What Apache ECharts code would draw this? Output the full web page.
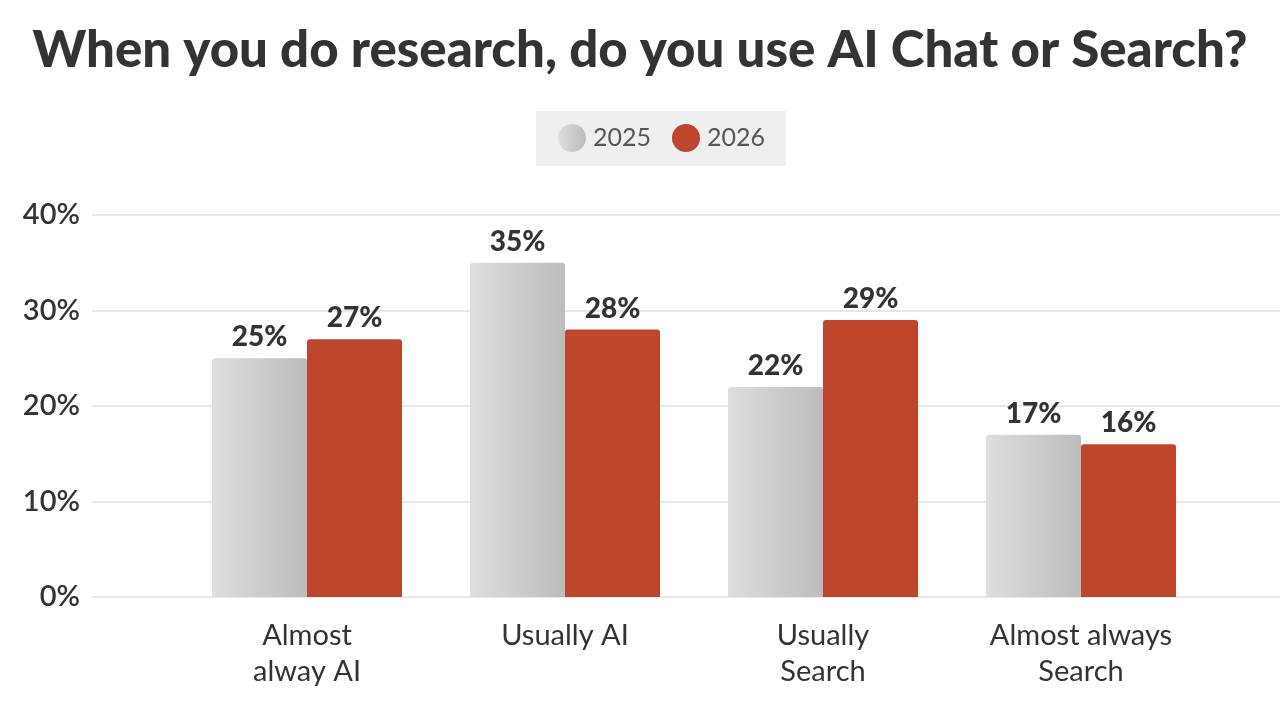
<!DOCTYPE html>
<html>
<head>
<meta charset="utf-8">
<script src="https://cdn.jsdelivr.net/npm/echarts@6/dist/echarts.min.js"></script>
<style>
  html, body { margin: 0; padding: 0; background: #fff; }
  #chart { width: 1280px; height: 720px; }
</style>
</head>
<body>
<div id="chart"></div>
<script>
  var categories = ['Almost\nalway AI', 'Usually AI', 'Usually\nSearch', 'Almost always\nSearch'];
  var values2025 = [25, 35, 22, 17];
  var values2026 = [27, 28, 29, 16];
  var yTicks = [0, 10, 20, 30, 40];

  var chart = echarts.init(document.getElementById('chart'));

  var labelStyle = {
    show: true,
    position: 'top',
    distance: 7,
    formatter: '{c}%',
    fontFamily: 'Lato',
    fontSize: 28,
    fontWeight: 900,
    color: '#333'
  };

  var option = {
    backgroundColor: '#fff',
    textStyle: { fontFamily: 'Lato' },
    title: {
      text: 'When you do research, do you use AI Chat or Search?',
      left: 'center',
      top: 20,
      textStyle: {
        fontFamily: 'Lato',
        fontSize: 51,
        fontWeight: 900,
        color: '#333'
      }
    },
    legend: {
      data: ['2025', '2026'],
      top: 111,
      left: 536,
      backgroundColor: '#efefef',
      padding: [13, 21, 14, 22],
      icon: 'circle',
      itemWidth: 28,
      itemHeight: 28,
      itemGap: 21,
      textStyle: { fontFamily: 'Lato', fontSize: 25, color: '#555', padding: [0, 0, 0, 2] }
    },
    grid: [
      { left: 92, right: 0, top: 215, bottom: 123 },
      { left: 178, width: 1032, top: 215, bottom: 123 }
    ],
    xAxis: [
      { gridIndex: 0, type: 'value', show: false },
      {
        gridIndex: 1,
        type: 'category',
        data: categories,
        axisLine: { show: false },
        axisTick: { show: false },
        axisLabel: {
          margin: 21,
          fontFamily: 'Lato',
          fontSize: 29,
          lineHeight: 36,
          color: '#333'
        }
      }
    ],
    yAxis: [
      {
        gridIndex: 0,
        type: 'value',
        min: yTicks[0],
        max: yTicks[yTicks.length - 1],
        interval: 10,
        axisLine: { show: false },
        axisTick: { show: false },
        axisLabel: {
          formatter: '{value}%',
          margin: 12,
          fontFamily: 'Lato',
          fontSize: 29,
          fontWeight: 600,
          color: '#333'
        },
        splitLine: { lineStyle: { color: '#e8e8e8', width: 2 } }
      },
      {
        gridIndex: 1,
        type: 'value',
        min: yTicks[0],
        max: yTicks[yTicks.length - 1],
        interval: 10,
        show: false
      }
    ],
    series: [
      {
        name: '2025',
        type: 'bar',
        xAxisIndex: 1,
        yAxisIndex: 1,
        data: values2025,
        barWidth: 95,
        barGap: '0%',
        itemStyle: {
          borderRadius: [3, 3, 0, 0],
          color: new echarts.graphic.LinearGradient(0, 0, 1, 0, [
            { offset: 0, color: '#dedede' },
            { offset: 1, color: '#bcbcbc' }
          ])
        },
        label: labelStyle
      },
      {
        name: '2026',
        type: 'bar',
        xAxisIndex: 1,
        yAxisIndex: 1,
        data: values2026,
        barWidth: 95,
        barGap: '0%',
        itemStyle: {
          borderRadius: [3, 3, 0, 0],
          color: '#bd462d'
        },
        label: labelStyle
      }
    ]
  };

  chart.setOption(option);
</script>
</body>
</html>
